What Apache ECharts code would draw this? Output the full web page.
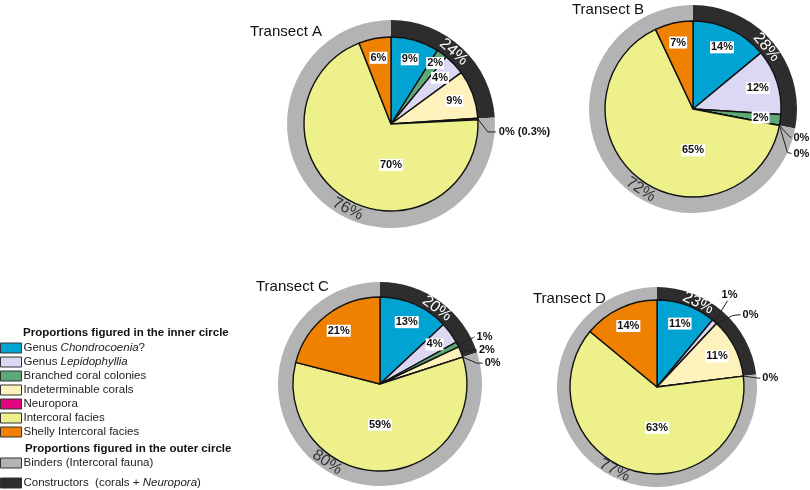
<!DOCTYPE html>
<html><head><meta charset="utf-8">
<script src="https://cdn.jsdelivr.net/npm/echarts@6/dist/echarts.min.js"></script>
<style>html,body{margin:0;padding:0;background:#fff}#c{width:810px;height:490px}</style>
</head><body><div id="c"></div>
<script>
// ---------- data ----------
const categories = ['Genus Chondrocoenia?', 'Genus Lepidophyllia', 'Branched coral colonies', 'Indeterminable corals', 'Neuropora', 'Intercoral facies', 'Shelly Intercoral facies'];
const legendLabels = ['Genus {i|Chondrocoenia}?', 'Genus {i|Lepidophyllia}', 'Branched coral colonies', 'Indeterminable corals', 'Neuropora', 'Intercoral facies', 'Shelly Intercoral facies'];
const outerCategories = ['Constructors', 'Binders'];
const outerLegendLabels = {Binders: 'Binders (Intercoral fauna)', Constructors: 'Constructors  (corals + {i|Neuropora})'};
const transectNames = ['Transect A', 'Transect B', 'Transect C', 'Transect D'];
// inner circle values, in categories order (%)
const valuesA = [9, 4, 2, 9, 0.3, 70, 6];
const valuesB = [14, 12, 2, 0, 0, 65, 7];
const valuesC = [13, 4, 1, 2, 0, 59, 21];
const valuesD = [11, 1, 0, 11, 0, 63, 14];
// outer circle values (%)
const constructors = [24, 28, 20, 23];
const binders = [76, 72, 80, 77];
// slice order around each pie (clockwise from 12 o'clock), indices into categories
const orderA = [0, 2, 1, 3, 4, 5, 6];
const orderB = [0, 1, 2, 3, 4, 5, 6];
const orderC = [0, 1, 2, 3, 4, 5, 6];
const orderD = [0, 1, 2, 3, 4, 5, 6];

// ---------- style ----------
const FONT = '"Liberation Sans", Arial, Helvetica, sans-serif';
const catColors = ['#00a3d2', '#dcd7f3', '#5da877', '#fdf2bb', '#e0067f', '#edf08b', '#f08000'];
const outerColors = {Constructors: '#2d2d2d', Binders: '#b3b3b3'};
const outerLabelColors = {Constructors: '#ffffff', Binders: '#333333'};
// callout offsets relative to the slice-edge anchor of the label line:
// o = label anchor, e = elbow, f = end of line
const layouts = [
  {center: [391, 124], r: 87, R: 104, title: [250, 24], outside: [4], far: [2], len: 16, len2: 6,
   callout: {4: {o: [21, 13], e: [10, 13], f: [18, 13]}}, outerAngles: [41, 207]},
  {center: [693, 109], r: 88, R: 104, title: [572, 2], outside: [3, 4], far: [], len: 8, len2: 5,
   callout: {3: {o: [14, 12], e: [10, 11], f: [12, 12]}, 4: {o: [14, 28], e: [8, 27], f: [12, 28]}},
   outerAngles: [50, 213]},
  {center: [380, 384], r: 87, R: 102, title: [256, 279], outside: [2, 3, 4], far: [], len: 14, len2: 6,
   callout: {2: {o: [19, -8], e: [16, -7], f: [17, -8]}, 3: {o: [18, -2], e: [12, -2], f: [16, -2]},
             4: {o: [22, 6], e: [14, 6], f: [20, 6]}}, outerAngles: [37, 214]},
  {center: [657, 387], r: 87, R: 100, title: [533, 291], outside: [1, 2, 4], far: [], len: 22, len2: 6,
   callout: {1: {o: [7, -27], e: [13, -21], f: [13, -21]}, 2: {o: [26, -9], e: [16, -8], f: [24, -9]},
             4: {o: [19, 2], e: [15, 2], f: [17, 2]}}, outerAngles: [26, 207]}
];
const centerLabelCat = 5;

const allValues = [valuesA, valuesB, valuesC, valuesD];
const allOrders = [orderA, orderB, orderC, orderD];

function pctText(v) {
  return Number.isInteger(v) ? v + '%' : Math.round(v) + '% (' + v + '%)';
}
function tangentialDeg(a) {
  return (a > 90 && a < 270) ? 180 - a : -a;
}
const boxLabel = {position: 'inside', color: '#111', backgroundColor: '#fff', padding: [1, 1, 0, 1],
  fontFamily: FONT, fontSize: 11, fontWeight: 'bold', formatter: p => pctText(p.value)};

const series = [];
const titles = [];
transectNames.forEach((tn, t) => {
  const L = layouts[t];
  titles.push({text: tn, left: L.title[0], top: L.title[1], padding: 0,
    textStyle: {fontFamily: FONT, fontSize: 15, fontWeight: 'normal', color: '#111'}});
  // outer ring
  series.push({
    type: 'pie', center: L.center, radius: [L.r, L.R], startAngle: 90, clockwise: true,
    silent: true, z: 1, avoidLabelOverlap: false,
    label: {show: true, position: 'inside', fontFamily: FONT, fontSize: 16,
      formatter: p => p.value + '%'},
    labelLine: {show: false},
    labelLayout: p => {
      const a = L.outerAngles[p.dataIndex];
      const rad = (L.r + L.R) / 2, ar = a * Math.PI / 180;
      return {x: L.center[0] + rad * Math.sin(ar), y: L.center[1] - rad * Math.cos(ar),
              rotate: tangentialDeg(a)};
    },
    data: outerCategories.map(n => ({
      name: n, value: n === 'Constructors' ? constructors[t] : binders[t],
      itemStyle: {color: outerColors[n]}, label: {color: outerLabelColors[n]}
    }))
  });
  const vals = allValues[t];
  const ord = allOrders[t];
  // visible inner pie
  series.push({
    type: 'pie', center: L.center, radius: [0, L.r], startAngle: 90, clockwise: true,
    silent: true, z: 3, avoidLabelOverlap: false,
    itemStyle: {borderColor: '#111', borderWidth: 1.4},
    labelLayout: p => {
      const ci = ord[p.dataIndex];
      if (ci === centerLabelCat) return {x: L.center[0], y: L.center[1] + 0.47 * L.r};
      const c = L.callout[ci];
      if (c && p.labelLinePoints && p.labelLinePoints[0]) {
        const p0 = p.labelLinePoints[0];
        return {
          x: p0[0] + c.o[0], y: p0[1] + c.o[1],
          labelLinePoints: [[p0[0], p0[1]], [p0[0] + c.e[0], p0[1] + c.e[1]], [p0[0] + c.f[0], p0[1] + c.f[1]]]
        };
      }
      return {};
    },
    data: ord.map(ci => {
      const isOut = L.outside.includes(ci);
      const isCenter = ci === centerLabelCat;
      return {
        name: categories[ci], value: vals[ci],
        itemStyle: {color: catColors[ci]},
        label: isOut ? {show: true, position: 'outside', color: '#111', fontFamily: FONT, overflow: 'none',
                        align: 'left', verticalAlign: 'middle',
                        fontSize: 11, fontWeight: 'bold', formatter: p => pctText(p.value)}
             : isCenter ? Object.assign({show: true}, boxLabel)
             : {show: false},
        labelLine: isOut ? {show: true, length: L.len, length2: L.len2,
                        lineStyle: {color: '#222', width: 1}} : {show: false}
      };
    })
  });
  // label rings (transparent) carrying the slice labels near 3/4 radius
  [[0.48, false], [0.66, true]].forEach(([k, far]) => {
    series.push({
      type: 'pie', center: L.center, radius: [L.r * k, L.r], startAngle: 90, clockwise: true,
      silent: true, z: 4, avoidLabelOverlap: false,
      itemStyle: {color: 'rgba(0,0,0,0)', borderWidth: 0},
      labelLine: {show: false},
      data: ord.map(ci => {
        const show = !L.outside.includes(ci) && ci !== centerLabelCat && (L.far.includes(ci) === far);
        return {
          name: categories[ci], value: vals[ci],
          itemStyle: {color: 'rgba(0,0,0,0)'},
          label: Object.assign({show: show}, boxLabel)
        };
      })
    });
  });
});

// legend headers
titles.push({text: 'Proportions figured in the inner circle', left: 23, top: 327, padding: 0,
  textStyle: {fontFamily: FONT, fontSize: 11.5, fontWeight: 'bold', color: '#111'}});
titles.push({text: 'Proportions figured in the outer circle', left: 25, top: 443, padding: 0,
  textStyle: {fontFamily: FONT, fontSize: 11.5, fontWeight: 'bold', color: '#111'}});

const legendText = {fontFamily: FONT, fontSize: 11.5, color: '#222', lineHeight: 14, padding: [0, 0, 0, -3],
  rich: {i: {fontFamily: FONT, fontSize: 11.5, fontStyle: 'italic', color: '#222'}}};
const legendBase = {orient: 'vertical', left: 0, padding: 0, itemWidth: 21, itemHeight: 10, itemGap: 0,
  icon: 'rect', selectedMode: false, itemStyle: {borderColor: '#333', borderWidth: 1}, textStyle: legendText};

const option = {
  animation: false,
  backgroundColor: '#fff',
  title: titles,
  legend: [
    Object.assign({}, legendBase, {top: 341, data: categories,
      formatter: n => legendLabels[categories.indexOf(n)]}),
    Object.assign({}, legendBase, {top: 456, data: ['Binders'], formatter: n => outerLegendLabels[n]}),
    Object.assign({}, legendBase, {top: 476, data: ['Constructors'], formatter: n => outerLegendLabels[n]})
  ],
  series: series
};
const chart = echarts.init(document.getElementById('c'), null, {renderer: 'canvas'});
chart.setOption(option);
</script></body></html>
